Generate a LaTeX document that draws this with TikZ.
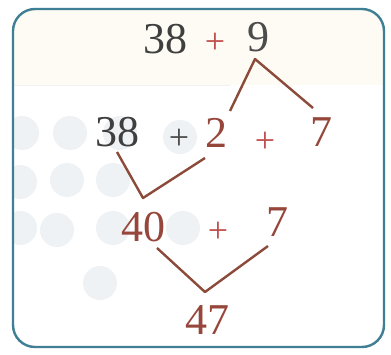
\documentclass[tikz,border=0pt]{standalone}
\usepackage{fontspec}
\setmainfont{Liberation Serif}
\definecolor{frame}{HTML}{3F7F95}
\definecolor{darkd}{HTML}{3F3F3F}
\definecolor{grayd}{HTML}{4C4C4C}
\definecolor{redp}{HTML}{C0504D}
\definecolor{brownd}{HTML}{96463A}
\definecolor{linec}{HTML}{8B4A3A}
\definecolor{bgc}{HTML}{EEF2F5}
\definecolor{cream}{HTML}{FDFBF3}
\begin{document}
\begin{tikzpicture}[x=1pt,y=-1pt,
  num/.style={inner sep=0pt,font=\fontsize{44}{44}\selectfont},
  plus/.style={inner sep=0pt,font=\fontsize{36}{36}\selectfont},
  link/.style={draw=linec,line width=2.4pt,line join=round}]
\useasboundingbox (0,0) rectangle (391,354);
\fill[white] (0,0) rectangle (391,354);
% background
\begin{scope}
\clip[rounded corners=22pt] (13,9) rectangle (384,347);
\fill[cream] (13,9) rectangle (384,85);
\draw[black!5,line width=1pt] (13,85) -- (230,85);
\foreach \cx/\cy in {22/133,70/133,120/133,180/137,20/182,67/180,113/180,20/228,57/230,113/228,183/228,100/283}
  \fill[bgc] (\cx,\cy) circle (17);
\end{scope}
\draw[frame,line width=2.4pt,rounded corners=22pt] (13,9) rectangle (384,347);
% numbers
\node[num,text=darkd] (t38) at (165,39) {38};
\node[plus,text=redp] (tplus) at (215,43) {+};
\node[num,text=grayd] (t9) at (258,37) {9};
\node[num,text=darkd] (m38) at (117,132) {38};
\node[plus,text=grayd] (mplusa) at (179,139) {+};
\node[num,text=brownd] (m2) at (216,133) {2};
\node[plus,text=redp] (mplusb) at (265,142) {+};
\node[num,text=brownd] (m7) at (321,132) {7};
\node[num,text=brownd] (b40) at (143,227) {40};
\node[plus,text=redp] (bplus) at (218,232) {+};
\node[num,text=brownd] (b7) at (277,222) {7};
\node[num,text=brownd] (r47) at (207,320) {47};
% connectors
\coordinate (a1) at (255,59);
\coordinate (a1l) at (230,111);
\coordinate (a1r) at (313,108);
\coordinate (a2s) at (117,152);
\coordinate (a2) at (143,198);
\coordinate (a2e) at (205,158);
\coordinate (a3s) at (157,248);
\coordinate (a3) at (205,292);
\coordinate (a3e) at (268,246);
\draw[link] (a1l) -- (a1) -- (a1r);
\draw[link] (a2s) -- (a2) -- (a2e);
\draw[link] (a3s) -- (a3) -- (a3e);
\end{tikzpicture}
\end{document}
